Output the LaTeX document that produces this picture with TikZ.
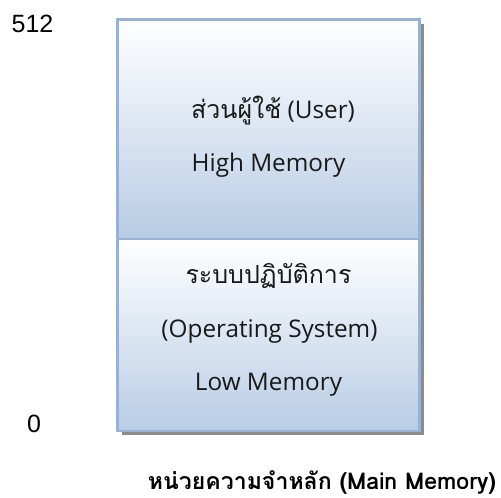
\documentclass[tikz,border=0pt]{standalone}
\usepackage{fontspec}
\setmainfont{Liberation Sans}
\newfontfamily\thaifont[Script=Thai]{Loma}
\newfontfamily\boxfont{Open Sans}
\usepackage{xcolor}
\usetikzlibrary{positioning, calc}

\definecolor{boxborder}{RGB}{149,179,215}
\definecolor{boxfill}{RGB}{184,204,229}

\begin{document}
\begin{tikzpicture}[x=1pt, y=-1pt]
  \tikzset{
    membox/.style={draw=boxborder, line width=2.5pt, top color=white, bottom color=boxfill,
      minimum width=302pt, inner sep=0pt},
    shadowbox/.style={fill=black!45},
    memtext/.style={font=\boxfont\fontsize{24.3}{30}\selectfont, anchor=base, text=black!90},
    addr/.style={font=\fontsize{25}{30}\selectfont, anchor=base},
    title/.style={font=\thaifont\bfseries\fontsize{23.1}{28}\selectfont, anchor=base, inner sep=0pt}
  }
  \useasboundingbox (0,0) rectangle (501,498);

  % Corners of the memory column
  \coordinate (TopLeft) at (117.5,19.5);
  \coordinate (BotRight) at (419.5,431);

  % Shadow behind the column
  \fill[shadowbox] ($(TopLeft)+(4,4)$) rectangle ($(BotRight)+(4,4)$);

  % Upper part (user) and lower part (OS)
  \node[membox, minimum height=219.5pt] (user) at (268.5,129.25) {};
  \node[membox, minimum height=192pt] (os) at (268.5,335) {};

  % Texts in the boxes
  \node[memtext] (userth) at (273,118) {{\thaifont\fontsize{25}{30}\selectfont ส่วนผู้ใช้} (User)};
  \node[memtext] (userhi) at (268.5,171) {High Memory};
  \node[memtext] (osth) at (268.5,283) {\thaifont\fontsize{25}{30}\selectfont ระบบปฏิบัติการ};
  \node[memtext] (osen) at (269.5,337) {(Operating System)};
  \node[memtext] (oslo) at (268.5,390) {Low Memory};

  % Addresses
  \node[addr] (top) at (32.5,32) {512};
  \node[addr] (bottom) at (34,432) {0};

  % Caption
  \node[title] (caption) at (322,489) {หน่วยความจำหลัก (Main Memory)};
\end{tikzpicture}
\end{document}
